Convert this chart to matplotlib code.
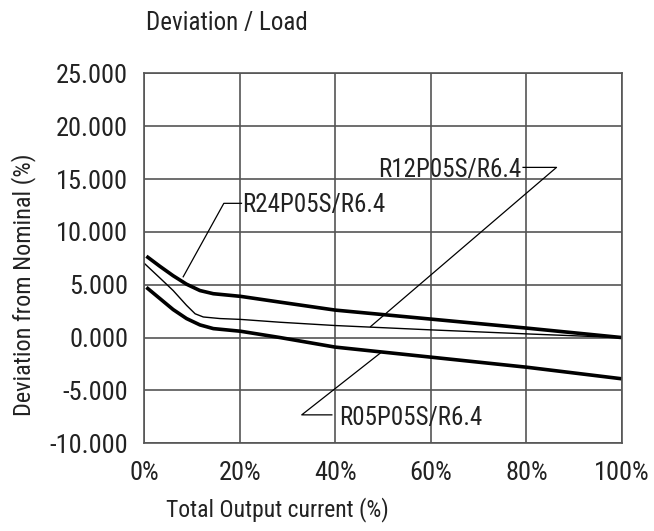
import matplotlib
matplotlib.use("Agg")
from matplotlib import pyplot as plt
from matplotlib import font_manager as fm

# narrow sans like the reference, first one found
installed = set(f.name for f in fm.fontManager.ttflist)
for fam in ['Roboto Condensed', 'Liberation Sans Narrow', 'Archivo Narrow',
            'PT Sans Narrow', 'Arimo', 'Liberation Sans']:
    if fam in installed:
        break
plt.rcParams['font.family'] = [fam, 'DejaVu Sans']

# load (%) vs deviation (%)
load24 = [0.5, 3.3, 6.1, 8.9, 11.7, 14.5, 20.2, 28.5, 40, 60, 80, 100]
r24 = [7.7, 6.75, 5.85, 5.05, 4.45, 4.15, 3.9, 3.35, 2.6, 1.75, 0.9, 0.0]

load12 = [0, 3.3, 6.1, 8.9, 10.7, 12.4, 15.9, 20.2, 28.5, 40, 60, 80, 94, 100]
r12 = [7.05, 5.65, 4.45, 3.05, 2.25, 1.95, 1.8, 1.72, 1.45, 1.14, 0.73, 0.35, 0.1, 0.0]

load05 = [0.5, 3.3, 6.1, 8.9, 11.7, 14.5, 20.2, 28.5, 40, 60, 80, 100]
r05 = [4.75, 3.7, 2.65, 1.8, 1.2, 0.85, 0.6, 0.0, -0.9, -1.85, -2.8, -3.9]

labels = ["R24P05S/R6.4", "R12P05S/R6.4", "R05P05S/R6.4"]
x_ticks = [0, 20, 40, 60, 80, 100]
y_ticks = [-10, -5, 0, 5, 10, 15, 20, 25]

txt = '#222222'
grid = '#555555'

fig = plt.figure(figsize=(6.54, 5.31), dpi=100)
ax = fig.add_axes([144 / 654, 87.7 / 531, 478 / 654, 370 / 531])

ax.plot(load24, r24, color='black', lw=2.6, solid_capstyle='butt')
ax.plot(load12, r12, color='black', lw=1.0)
ax.plot(load05, r05, color='black', lw=2.6, solid_capstyle='butt')

# leader lines + labels
ax.plot([8.2, 16.7, 20.4], [5.75, 12.7, 12.7], color='black', lw=0.9)
ax.text(20.6, 11.9, labels[0], ha='left', va='baseline', fontsize=18, color=txt)

ax.plot([47.4, 86.3, 79.3], [1.04, 16.1, 16.1], color='black', lw=0.9)
ax.text(79.0, 15.23, labels[1], ha='right', va='baseline', fontsize=18, color=txt)

ax.plot([49.4, 33.0, 39.3], [-1.48, -7.31, -7.31], color='black', lw=0.9)
ax.text(40.9, -8.26, labels[2], ha='left', va='baseline', fontsize=18, color=txt)

ax.set_xlim(0, 100)
ax.set_ylim(-10, 25)
ax.set_xticks(x_ticks)
ax.set_xticklabels([f"{v}%" for v in x_ticks])
ax.set_yticks(y_ticks)
ax.set_yticklabels([f"{v:.3f}" for v in y_ticks])
ax.tick_params(length=0, labelsize=19, labelcolor=txt)
ax.tick_params(axis='x', pad=13)
ax.tick_params(axis='y', pad=11.5)
ax.grid(True, color=grid, lw=1.2)
for s in ax.spines.values():
    s.set_color(grid)
    s.set_linewidth(1.2)

fig.text(146 / 654, 1 - 23 / 531, "Deviation / Load", ha='left', va='center',
         fontsize=18, color=txt)
fig.text(277 / 654, 1 - 510 / 531, "Total Output current (%)", ha='center',
         va='center', fontsize=17, color=txt)
fig.text(24 / 654, 1 - 285 / 531, "Deviation from Nominal (%)", ha='center',
         va='center', rotation=90, fontsize=17.5, color=txt)

fig.savefig("out.png", dpi=100)
